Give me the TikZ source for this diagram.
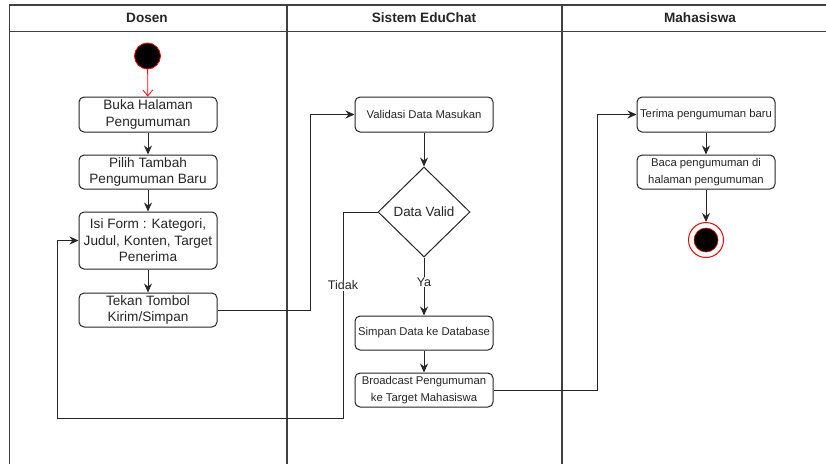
\documentclass[tikz,border=0pt]{standalone}
\usepackage{fontspec}
\setmainfont{Liberation Sans}
\usetikzlibrary{shapes.geometric,arrows.meta}

\tikzset{
  lane/.style={draw=black!75, line width=1.3pt},
  actbig/.style={draw=black!85, line width=1pt, rounded corners=5pt, fill=white,
    minimum width=138pt, inner sep=1pt, align=center,
    font=\fontsize{13.6}{16.5}\selectfont, text=black!85},
  actsmall/.style={actbig, font=\fontsize{11.3}{16.5}\selectfont},
  decision/.style={diamond, draw=black!85, line width=1pt, fill=white, inner sep=0pt,
    aspect=1, minimum width=92pt, minimum height=90pt,
    font=\fontsize{13.4}{16}\selectfont, text=black!85},
  flow/.style={draw=black!85, line width=1pt, -{Stealth[length=9pt,width=8pt,inset=3pt]}},
  guard/.style={fill=white, inner sep=1pt, font=\fontsize{12.5}{15}\selectfont, text=black!85},
  header/.style={font=\bfseries\fontsize{13.6}{16}\selectfont, text=black!85}
}

\begin{document}
\begin{tikzpicture}[x=1pt, y=-1pt]
\useasboundingbox (0,0) rectangle (826,464);

% swimlane frame
\draw[lane] (826,5) -- (9.5,5) -- (9.5,464);
\draw[lane] (9.5,31.5) -- (826,31.5);
\draw[lane] (287,5) -- (287,464);
\draw[lane] (562,5) -- (562,464);

\node[header] (hDosen) at (147,18) {Dosen};
\node[header] (hSistem) at (424,18) {Sistem EduChat};
\node[header] (hMhs) at (700,18) {Mahasiswa};

% Dosen lane
\node[circle, draw=red, line width=0.8pt, fill=black, minimum size=26pt, inner sep=0pt] (start) at (147.5,56) {};
\node[actbig, minimum height=35pt] (buka) at (148,114.5) {Buka Halaman\\Pengumuman};
\node[actbig, minimum height=34pt] (pilih) at (148,172) {Pilih Tambah\\Pengumuman Baru};
\node[actbig, minimum height=57pt] (isi) at (148,240.5) {Isi Form : Kategori,\\Judul, Konten, Target\\Penerima};
\node[actbig, minimum height=34pt] (tekan) at (148,310) {Tekan Tombol\\Kirim/Simpan};

% Sistem EduChat lane
\node[actsmall, minimum height=35pt] (validasi) at (424,114.5) {Validasi Data Masukan};
\node[decision] (valid) at (424,212) {Data Valid};
\node[actsmall, minimum height=34pt] (simpan) at (424,333) {Simpan Data ke Database};
\node[actsmall, minimum height=34pt] (broadcast) at (424,390) {Broadcast Pengumuman\\ke Target Mahasiswa};

% Mahasiswa lane
\node[actsmall, minimum height=35pt] (terima) at (706,114.5) {Terima pengumuman baru};
\node[actsmall, minimum height=34pt] (baca) at (706,172) {Baca pengumuman di\\halaman pengumuman};
\node[circle, draw=red, line width=1pt, fill=white, minimum size=35pt, inner sep=0pt] (end) at (706,240) {};
\node[circle, draw=red, line width=0.6pt, fill=black, minimum size=24pt, inner sep=0pt] (endcore) at (end.center) {};

\coordinate (tidakTop) at (343,212);
\coordinate (tidakBot) at (343,418);
\coordinate (backBot) at (57,418);
\coordinate (backTop) at (57,240.5);
\coordinate (sendX) at (310,310);
\coordinate (sendY) at (310,114.5);
\coordinate (castX) at (597,390);
\coordinate (castY) at (597,114.5);

% control flow
\draw[red, line width=0.8pt, -{Straight Barb[length=6pt,width=10pt]}] (start) -- (buka);
\draw[flow] (buka) -- (pilih);
\draw[flow] (pilih) -- (isi);
\draw[flow] (isi) -- (tekan);
\draw[flow] (tekan.east) -- (sendX) -- (sendY) -- (validasi.west);
\draw[flow] (validasi) -- (valid.north);
\draw[flow] (valid.south) -- node[guard, pos=0.42] {Ya} (simpan.north);
\draw[flow] (valid.west) -- (tidakTop) -- node[guard, pos=0.356] {Tidak} (tidakBot) -- (backBot) -- (backTop) -- (isi.west);
\draw[flow] (simpan) -- (broadcast);
\draw[flow] (broadcast.east) -- (castX) -- (castY) -- (terima.west);
\draw[flow] (terima) -- (baca);
\draw[flow] (baca) -- (end.north);
\end{tikzpicture}
\end{document}
